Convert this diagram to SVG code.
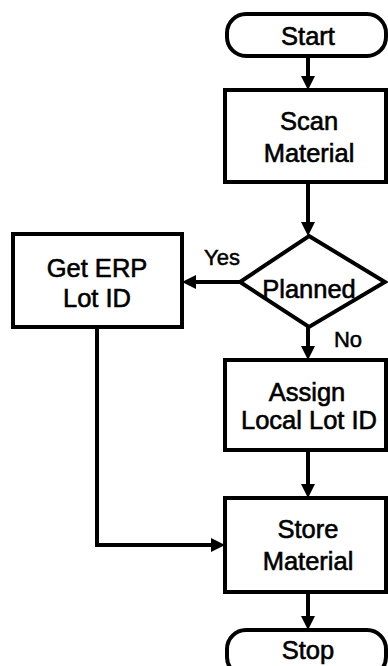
<svg xmlns="http://www.w3.org/2000/svg" width="388" height="666" viewBox="0 0 388 666">
  <style>
    .shape { fill: #ffffff; stroke: #000000; stroke-width: 4; }
    .conn { fill: none; stroke: #000000; stroke-width: 4; }
    .lbl { font-family: "Liberation Sans", Arial, sans-serif; font-size: 25.5px; fill: #000000; stroke: #000000; stroke-width: 0.6; text-anchor: middle; }
    .small { font-family: "Liberation Sans", Arial, sans-serif; font-size: 22px; fill: #000000; stroke: #000000; stroke-width: 0.5; text-anchor: middle; }
  </style>
  <defs>
    <marker id="arrow" markerUnits="userSpaceOnUse" markerWidth="14" markerHeight="14" refX="4" refY="7" orient="auto">
      <path d="M0,0 L14,7 L0,14 z" fill="#000000"/>
    </marker>
  </defs>
  <rect width="388" height="666" fill="#ffffff"/>

  <g id="connectors">
    <path class="conn" d="M308,56 V80" marker-end="url(#arrow)"/>
    <path class="conn" d="M308,182 V226" marker-end="url(#arrow)"/>
    <path class="conn" d="M240,282 H192" marker-end="url(#arrow)"/>
    <path class="conn" d="M308,327 V350" marker-end="url(#arrow)"/>
    <path class="conn" d="M97,327 V545 H215" marker-end="url(#arrow)"/>
    <path class="conn" d="M308,450 V488" marker-end="url(#arrow)"/>
    <path class="conn" d="M308,592 V620" marker-end="url(#arrow)"/>
    <text class="small" x="222" y="265">Yes</text>
    <text class="small" x="348" y="347">No</text>
  </g>

  <g id="start">
    <rect class="shape" x="227" y="14" width="159" height="42" rx="19" ry="19"/>
    <text class="lbl" x="308" y="45">Start</text>
  </g>

  <g id="scan">
    <rect class="shape" x="225" y="90" width="161" height="92"/>
    <text class="lbl" x="309" y="130">Scan</text>
    <text class="lbl" x="309" y="162">Material</text>
  </g>

  <g id="planned">
    <polygon class="shape" points="309,236 385,282 309,327 240,282"/>
    <text class="lbl" x="309" y="298">Planned</text>
  </g>

  <g id="get-erp">
    <rect class="shape" x="13" y="234" width="169" height="93"/>
    <text class="lbl" x="97" y="277">Get ERP</text>
    <text class="lbl" x="97" y="307">Lot ID</text>
  </g>

  <g id="assign">
    <rect class="shape" x="225" y="360" width="161" height="90"/>
    <text class="lbl" x="307" y="401">Assign</text>
    <text class="lbl" x="309" y="429">Local Lot ID</text>
  </g>

  <g id="store">
    <rect class="shape" x="225" y="498" width="161" height="94"/>
    <text class="lbl" x="308" y="538">Store</text>
    <text class="lbl" x="308" y="570">Material</text>
  </g>

  <g id="stop">
    <rect class="shape" x="227" y="630" width="159" height="46" rx="19" ry="19"/>
    <text class="lbl" x="308" y="659">Stop</text>
  </g>
</svg>
